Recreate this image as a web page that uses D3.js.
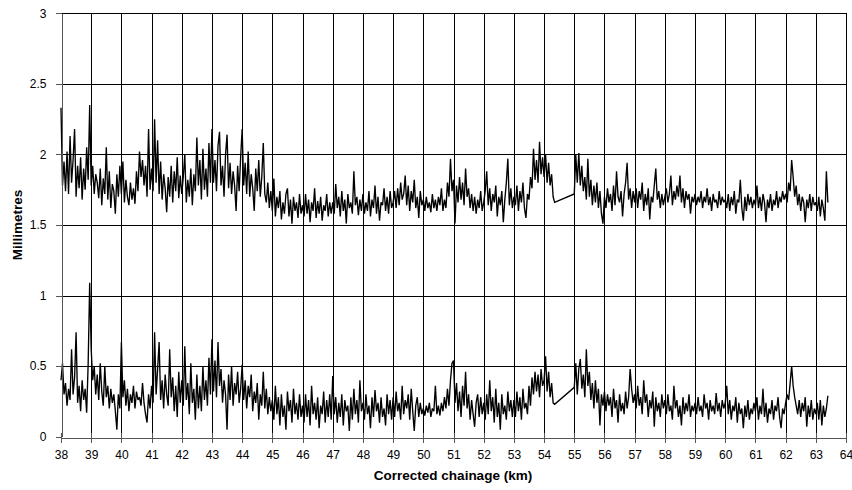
<!DOCTYPE html>
<html><head><meta charset="utf-8">
<script src="https://cdn.jsdelivr.net/npm/d3@7"></script>
<style>body{margin:0;background:#fff}svg{display:block;font-family:"Liberation Sans",Arial,sans-serif}</style>
</head><body><svg id="c" width="852" height="490"></svg>
<script>
// Chainage sampling of each recorded segment (km)
const segAStart = 38.0, segBStart = 55.0, step = 0.05;
const xTicks = d3.range(38, 65, 1);
const yTicks = [0, 0.5, 1, 1.5, 2, 2.5, 3];

// Upper trace, segment A (38.00 - 54.35 km)
const upperA = [
 2.33,1.78,1.95,1.74,2.02,1.72,2.13,1.80,1.96,2.18,1.70,1.92,1.76,1.98,1.68,1.90,1.75,2.05,1.82,2.35,
 1.78,1.92,1.72,1.86,1.80,1.69,1.90,1.64,1.83,1.72,2.05,1.68,1.88,1.62,1.79,1.74,1.58,1.86,1.70,1.92,
 1.72,1.95,1.66,1.82,1.70,1.64,1.80,1.68,1.76,1.65,1.88,1.74,2.02,1.84,1.96,1.78,1.92,1.70,2.18,1.75,
 1.90,1.74,2.25,1.80,2.10,1.72,1.95,1.68,1.86,1.76,1.59,1.84,1.70,1.92,1.66,1.88,1.74,1.98,1.69,1.85,
 1.72,1.84,2.00,1.66,1.82,1.70,1.90,1.64,1.86,1.74,2.12,1.78,1.96,1.68,2.04,1.75,1.90,1.70,2.08,1.80,
 2.18,1.80,1.96,1.74,2.06,2.16,1.78,1.92,1.70,2.00,2.14,1.76,1.94,1.72,1.88,1.78,1.60,1.92,1.74,1.98,
 2.18,1.78,1.94,1.72,2.02,1.70,1.86,1.76,1.60,1.90,1.74,1.96,1.70,1.84,2.08,1.72,1.66,1.80,1.62,1.74,
 1.60,1.83,1.56,1.70,1.62,1.74,1.54,1.66,1.58,1.72,1.76,1.56,1.68,1.51,1.70,1.60,1.66,1.55,1.72,1.58,
 1.64,1.56,1.72,1.58,1.68,1.52,1.66,1.60,1.76,1.55,1.67,1.58,1.70,1.53,1.64,1.60,1.72,1.56,1.66,1.58,
 1.66,1.58,1.79,1.62,1.70,1.56,1.74,1.60,1.68,1.51,1.72,1.62,1.66,1.58,1.88,1.64,1.70,1.57,1.68,1.60,
 1.72,1.58,1.66,1.60,1.74,1.56,1.68,1.62,1.78,1.58,1.70,1.53,1.66,1.64,1.76,1.60,1.70,1.58,1.74,1.62,
 1.66,1.74,1.62,1.76,1.64,1.80,1.68,1.72,1.85,1.64,1.78,1.60,1.74,1.66,1.82,1.62,1.70,1.55,1.74,1.64,
 1.68,1.60,1.70,1.62,1.66,1.59,1.72,1.62,1.68,1.60,1.70,1.64,1.76,1.60,1.68,1.62,1.80,1.70,1.97,1.74,
 1.82,1.51,1.78,1.66,1.84,1.68,1.80,1.64,1.90,1.70,1.76,1.62,1.72,1.60,1.70,1.58,1.68,1.62,1.74,1.60,
 1.66,1.74,1.88,1.64,1.76,1.60,1.72,1.66,1.78,1.56,1.70,1.64,1.74,1.52,1.68,1.80,1.97,1.64,1.76,1.62,
 1.70,1.64,1.78,1.60,1.74,1.66,1.80,1.62,1.55,1.72,1.68,1.84,1.76,2.04,1.82,1.96,1.80,2.09,1.86,1.98,
 1.84,2.00,1.80,1.94,1.78,1.86,1.70,1.66
];
// Upper trace, segment B (55.00 - 63.40 km)
const upperB = [
 1.72,2.00,1.80,2.01,1.78,1.92,1.74,1.84,1.68,1.97,1.70,1.82,1.64,1.78,1.66,1.80,1.62,1.74,1.58,1.51,
 1.70,1.62,1.76,1.66,1.72,1.60,1.78,1.64,1.88,1.70,1.66,1.74,1.56,1.72,1.80,1.94,1.68,1.76,1.62,1.74,
 1.66,1.76,1.62,1.74,1.68,1.80,1.60,1.72,1.64,1.76,1.54,1.70,1.66,1.78,1.90,1.68,1.74,1.62,1.72,1.64,
 1.70,1.76,1.66,1.72,1.85,1.64,1.74,1.68,1.78,1.70,1.85,1.66,1.76,1.62,1.74,1.68,1.72,1.58,1.70,1.66,
 1.72,1.64,1.70,1.66,1.74,1.62,1.70,1.66,1.76,1.64,1.70,1.60,1.72,1.66,1.68,1.62,1.74,1.64,1.70,1.66,
 1.68,1.62,1.72,1.60,1.70,1.64,1.74,1.58,1.68,1.66,1.82,1.62,1.53,1.70,1.60,1.72,1.64,1.70,1.62,1.68,
 1.64,1.78,1.62,1.70,1.60,1.72,1.66,1.52,1.68,1.62,1.72,1.60,1.68,1.64,1.74,1.62,1.70,1.66,1.74,1.68,
 1.72,1.66,1.80,1.74,1.96,1.84,1.70,1.78,1.64,1.72,1.60,1.70,1.66,1.52,1.68,1.62,1.72,1.60,1.70,1.64,
 1.66,1.60,1.70,1.56,1.68,1.62,1.53,1.88,1.66
];
// Lower trace, segment A (38.00 - 54.35 km)
const lowerA = [
 0.40,0.52,0.30,0.38,0.22,0.34,0.26,0.62,0.30,0.42,0.74,0.24,0.36,0.18,0.40,0.26,0.34,0.17,0.52,1.09,
 0.62,0.40,0.50,0.30,0.44,0.26,0.52,0.32,0.22,0.50,0.28,0.36,0.20,0.34,0.24,0.30,0.18,0.05,0.30,0.20,
 0.67,0.28,0.40,0.22,0.34,0.18,0.30,0.24,0.36,0.20,0.32,0.26,0.28,0.22,0.38,0.24,0.16,0.10,0.30,0.20,
 0.36,0.24,0.74,0.30,0.48,0.67,0.26,0.40,0.20,0.44,0.30,0.22,0.62,0.28,0.42,0.18,0.36,0.14,0.46,0.24,
 0.40,0.22,0.64,0.26,0.38,0.16,0.52,0.24,0.34,0.12,0.44,0.20,0.36,0.18,0.50,0.26,0.40,0.22,0.56,0.30,
 0.69,0.32,0.54,0.28,0.67,0.36,0.48,0.24,0.40,0.30,0.05,0.44,0.26,0.50,0.22,0.38,0.30,0.46,0.24,0.34,
 0.51,0.26,0.40,0.20,0.36,0.28,0.44,0.18,0.32,0.24,0.38,0.12,0.30,0.22,0.46,0.20,0.34,0.16,0.28,0.18,
 0.26,0.12,0.36,0.16,0.28,0.08,0.30,0.14,0.22,0.05,0.32,0.18,0.26,0.10,0.34,0.16,0.24,0.12,0.30,0.14,
 0.22,0.10,0.30,0.14,0.26,0.08,0.36,0.16,0.24,0.12,0.28,0.06,0.22,0.16,0.32,0.10,0.26,0.14,0.30,0.12,
 0.43,0.16,0.28,0.10,0.24,0.14,0.30,0.08,0.26,0.18,0.22,0.04,0.28,0.12,0.34,0.16,0.26,0.10,0.40,0.18,
 0.24,0.12,0.30,0.16,0.22,0.06,0.28,0.14,0.33,0.18,0.24,0.10,0.28,0.14,0.20,0.08,0.30,0.16,0.26,0.12,
 0.28,0.14,0.32,0.18,0.24,0.12,0.36,0.16,0.26,0.20,0.30,0.12,0.34,0.18,0.04,0.22,0.28,0.14,0.24,0.16,
 0.20,0.15,0.22,0.17,0.24,0.14,0.20,0.18,0.36,0.16,0.22,0.15,0.24,0.18,0.28,0.20,0.34,0.22,0.40,0.52,
 0.54,0.24,0.38,0.18,0.32,0.14,0.36,0.22,0.46,0.20,0.30,0.12,0.26,0.16,0.07,0.24,0.30,0.14,0.28,0.16,
 0.24,0.12,0.30,0.16,0.40,0.18,0.28,0.10,0.34,0.14,0.24,0.05,0.30,0.16,0.22,0.12,0.32,0.18,0.26,0.14,
 0.26,0.14,0.32,0.18,0.28,0.12,0.34,0.20,0.24,0.16,0.36,0.22,0.42,0.30,0.46,0.32,0.44,0.28,0.48,0.36,
 0.40,0.57,0.32,0.46,0.28,0.38,0.24,0.23
];
// Lower trace, segment B (55.00 - 63.40 km)
const lowerB = [
 0.35,0.52,0.30,0.48,0.55,0.34,0.44,0.28,0.62,0.36,0.46,0.26,0.38,0.20,0.40,0.24,0.34,0.08,0.30,0.22,
 0.32,0.18,0.30,0.22,0.28,0.14,0.34,0.20,0.26,0.10,0.30,0.18,0.24,0.16,0.32,0.20,0.28,0.48,0.34,0.24,
 0.30,0.20,0.36,0.22,0.28,0.16,0.40,0.24,0.30,0.14,0.26,0.20,0.32,0.07,0.28,0.18,0.24,0.14,0.30,0.20,
 0.26,0.16,0.30,0.18,0.22,0.12,0.36,0.20,0.26,0.14,0.22,0.08,0.28,0.16,0.24,0.18,0.30,0.14,0.22,0.18,
 0.24,0.16,0.28,0.18,0.22,0.14,0.30,0.20,0.24,0.12,0.26,0.18,0.22,0.16,0.31,0.18,0.24,0.14,0.26,0.20,
 0.24,0.36,0.16,0.26,0.12,0.22,0.18,0.28,0.10,0.24,0.16,0.20,0.06,0.22,0.14,0.26,0.12,0.20,0.16,0.24,
 0.18,0.28,0.12,0.22,0.16,0.34,0.14,0.24,0.10,0.20,0.16,0.26,0.12,0.22,0.18,0.28,0.14,0.06,0.20,0.16,
 0.24,0.30,0.26,0.38,0.50,0.36,0.28,0.22,0.16,0.26,0.14,0.24,0.18,0.28,0.07,0.22,0.14,0.26,0.12,0.20,
 0.16,0.24,0.12,0.26,0.08,0.22,0.14,0.20,0.29
];

const svg = d3.select("#c");
const x = d3.scaleLinear().domain([38, 64]).range([61, 846]);
const y = d3.scaleLinear().domain([0, 3]).range([436.7, 13.3]);

function toPoints(a, b) {
  return a.map((v, i) => [segAStart + i * step, v])
    .concat(b.map((v, i) => [segBStart + i * step, v]));
}
const series = [toPoints(upperA, upperB), toPoints(lowerA, lowerB)];

// gridlines
const g = svg.append("g").attr("shape-rendering", "crispEdges");
g.selectAll("line.h").data(yTicks.filter(d => d > 0)).join("line")
  .attr("x1", x(38)).attr("x2", x(64)).attr("y1", d => Math.round(y(d)) + 0.5).attr("y2", d => Math.round(y(d)) + 0.5)
  .attr("stroke", "#000").attr("stroke-width", 1);
g.selectAll("line.v").data(xTicks.filter(d => d > 38)).join("line")
  .attr("y1", y(0)).attr("y2", y(3)).attr("x1", d => Math.round(x(d)) + 0.5).attr("x2", d => Math.round(x(d)) + 0.5)
  .attr("stroke", "#000").attr("stroke-width", 1);

// data lines
const line = d3.line().x(d => x(d[0])).y(d => y(d[1]));
svg.append("g").selectAll("path").data(series).join("path")
  .attr("d", line).attr("fill", "none").attr("stroke", "#000").attr("stroke-width", 1.35)
  .attr("stroke-linejoin", "miter").attr("stroke-miterlimit", 2);

// axes
const xAxis = d3.axisBottom(x).tickValues(xTicks).tickFormat(d3.format("d")).tickSizeInner(5).tickSizeOuter(0).tickPadding(8);
const gx = svg.append("g").attr("transform", `translate(0,${Math.round(y(0)) + 0.5})`).call(xAxis);
gx.selectAll(".tick line").attr("y1", -5);
const yAxis = d3.axisLeft(y).tickValues(yTicks).tickFormat(d => d).tickSizeInner(6).tickSizeOuter(0).tickPadding(9);
const gy = svg.append("g").attr("transform", `translate(${Math.round(x(38)) + 0.5},0)`).call(yAxis);
[gx, gy].forEach(a => {
  a.select(".domain").attr("stroke", "#555").attr("shape-rendering", "crispEdges");
  a.selectAll(".tick line").attr("stroke", "#555").attr("shape-rendering", "crispEdges");
  a.selectAll("text").attr("font-size", 12).attr("fill", "#000").attr("font-family", "Liberation Sans, Arial, sans-serif");
});

// titles
svg.append("text").attr("x", 453).attr("y", 480).attr("text-anchor", "middle")
  .attr("font-size", 13.5).attr("font-weight", "bold").text("Corrected chainage (km)");
svg.append("text").attr("transform", "translate(22,225) rotate(-90)").attr("text-anchor", "middle")
  .attr("font-size", 13.5).attr("font-weight", "bold").text("Millimetres");
</script></body></html>
